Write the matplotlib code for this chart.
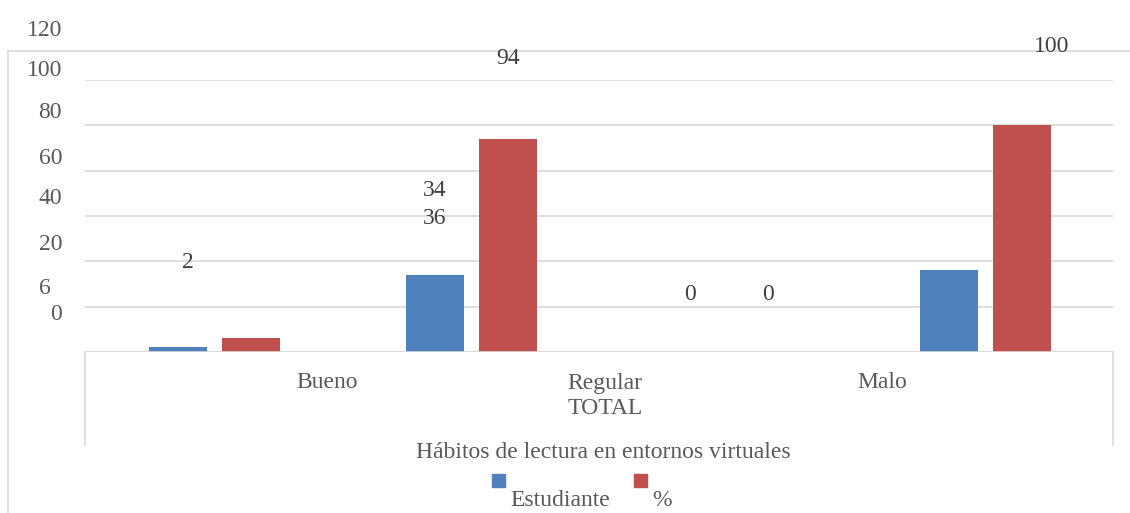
import matplotlib
matplotlib.use("Agg")
import matplotlib.pyplot as plt
from matplotlib.lines import Line2D
from matplotlib.patches import Rectangle

# --- datos ---
grupos = ["Bueno", "Regular", "TOTAL", "Malo"]
estudiante = [2, 34, 0, 36]
porcentaje = [6, 94, 0, 100]
series = ["Estudiante", "%"]
etiquetas_y = ["120", "100", "80", "60", "40", "20", "6", "0"]
etiquetas_datos = ["2", "34", "36", "0", "0", "94", "100"]
categorias = ["Bueno", "Regular\nTOTAL", "Malo"]
titulo_x = "Hábitos de lectura en entornos virtuales"

W, H = 1130, 513
AZUL = "#4F81BD"
ROJO = "#C0504D"
GRIS = "#595959"
GRID = "#D9D9D9"
FUENTE = "Liberation Serif"
TAM = 17
DY = 2  # ajuste vertical del texto

fig = plt.figure(figsize=(W / 100, H / 100), dpi=100)


def px(x, y):
    # pixeles -> fraccion de figura
    return x / W, 1 - y / H


ax = fig.add_axes([85 / W, 1 - 352 / H, 1028 / W, 272 / H])
ax.set_xlim(-0.5, 3.5)
ax.set_ylim(0, 120)

x = list(range(len(grupos)))
ancho = 0.2257
ax.bar([i - 0.14 for i in x], estudiante, ancho, color=AZUL, zorder=3)
ax.bar([i + 0.144 for i in x], porcentaje, ancho, color=ROJO, zorder=3)

ax.set_yticks(range(0, 121, 20))
ax.yaxis.grid(True, color=GRID, linewidth=1.2, zorder=0)
ax.tick_params(left=False, bottom=False, labelleft=False, labelbottom=False)
for s in ax.spines.values():
    s.set_visible(False)
ax.axhline(0, color=GRID, linewidth=1.2, zorder=4)

# marco del eje de categorias
for xp in (85, 1113):
    fig.add_artist(Line2D([xp / W, xp / W], [1 - 352 / H, 1 - 445 / H],
                          color=GRID, linewidth=1.2))

# borde exterior del grafico
fig.add_artist(Line2D([8 / W, 8 / W], [1 - 51 / H, 0], color=GRID, linewidth=1.2))
fig.add_artist(Line2D([8 / W, 1], [1 - 51 / H, 1 - 51 / H], color=GRID, linewidth=1.2))

# etiquetas del eje y (desplazadas como en el original)
pos_y = [28, 69, 111, 156, 197, 243, 286, 313]
der_y = [62, 62, 62, 62, 62, 62, 51, 62]
for t, yy, xx in zip(etiquetas_y, pos_y, der_y):
    fig.text(*px(xx, yy + DY), t, ha="right", va="center", family=FUENTE,
             fontsize=TAM, color=GRIS)

# etiquetas de datos
pos_datos = [(188, 261), (435, 188), (435, 216), (690, 293), (768, 293),
             (508, 57), (1052, 44)]
for t, (xx, yy) in zip(etiquetas_datos, pos_datos):
    fig.text(*px(xx, yy + DY), t, ha="center", va="center", family=FUENTE,
             fontsize=TAM, color="#404040")

# categorias
pos_cat = [(327, 380), (605, 394), (882, 380)]
for t, (xx, yy) in zip(categorias, pos_cat):
    fig.text(*px(xx, yy + DY), t, ha="center", va="center", family=FUENTE,
             fontsize=TAM, color=GRIS, linespacing=1.2)

fig.text(*px(603, 451 + DY), titulo_x, ha="center", va="center", family=FUENTE,
         fontsize=TAM, color=GRIS)

# leyenda
for col, xx in ((AZUL, 492), (ROJO, 634)):
    fig.add_artist(Rectangle(px(xx, 487), 13 / W, 13 / H, color=col,
                             transform=fig.transFigure))
for t, xx in zip(series, (560, 662)):
    fig.text(*px(xx, 499 + DY), t, ha="center", va="center", family=FUENTE,
             fontsize=TAM, color=GRIS)

fig.savefig("out.png", dpi=100)
